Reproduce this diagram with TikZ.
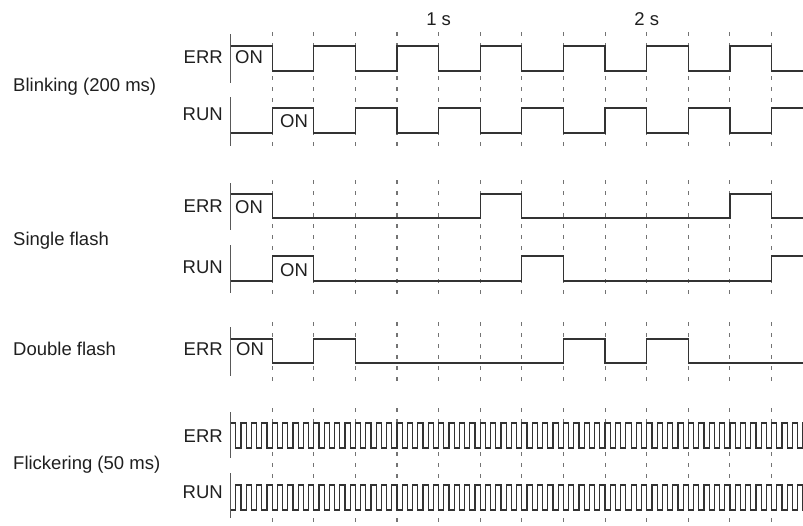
\documentclass[tikz,border=0pt]{standalone}
\usepackage{fontspec}
\setmainfont{Liberation Sans}
\begin{document}
\begin{tikzpicture}[x=1pt,y=-1pt,
  txt/.style={inner sep=0pt,font=\fontsize{18.5}{20}\selectfont,text=black!88},
  sig/.style={line width=1.2pt,draw=black!80,line join=miter},
  axisline/.style={line width=1.5pt,draw=black!65},
  grid/.style={line width=1.1pt,draw=black!55,dash pattern=on 4pt off 7pt}]
\useasboundingbox (0,0) rectangle (803,525);
\clip (0,0) rectangle (803,525);
% left labels
\node[txt,anchor=base west] (lblink) at (13,91) {Blinking (200 ms)};
\node[txt,anchor=base west] (lsingle) at (13,245) {Single flash};
\node[txt,anchor=base west] (ldouble) at (13,355) {Double flash};
\node[txt,anchor=base west] (lflick) at (13,469) {Flickering (50 ms)};
% channel labels
\node[txt,anchor=base east] (e1) at (223,63) {ERR};
\node[txt,anchor=base east] (r1) at (223,120.5) {RUN};
\node[txt,anchor=base east] (e2) at (223,212) {ERR};
\node[txt,anchor=base east] (r2) at (223,273) {RUN};
\node[txt,anchor=base east] (e3) at (223,355) {ERR};
\node[txt,anchor=base east] (e4) at (223,442) {ERR};
\node[txt,anchor=base east] (r4) at (223,498) {RUN};
% ON labels
\node[txt,anchor=base west] (on1) at (235,63) {ON};
\node[txt,anchor=base west] (on2) at (280,127.5) {ON};
\node[txt,anchor=base west] (on3) at (235,213) {ON};
\node[txt,anchor=base west] (on4) at (280,276) {ON};
\node[txt,anchor=base west] (on5) at (236,355) {ON};
\begin{scope}[xshift=230.5pt,x=41.62pt]
% time labels
\node[txt,anchor=base] (t1) at (5,25) {1 s};
\node[txt,anchor=base] (t2) at (10,25) {2 s};
% dashed grid
\foreach \k in {1,...,13}{
  \draw[grid] (\k,32) -- (\k,150);
  \draw[grid] (\k,180) -- (\k,298);
  \draw[grid] (\k,322) -- (\k,384);
  \draw[grid] (\k,408) -- (\k,523);
}
% axes
\draw[axisline] (0,34) -- (0,83);
\draw[axisline] (0,97) -- (0,146);
\draw[axisline] (0,183) -- (0,230);
\draw[axisline] (0,245) -- (0,293);
\draw[axisline] (0,327) -- (0,376);
\draw[axisline] (0,412) -- (0,458);
\draw[axisline] (0,473) -- (0,518);
% blinking
\draw[sig] (0,46) foreach \k in {1,3,...,13}{ -| (\k,71) -| ({\k+1},46)};
\draw[sig] (0,133) foreach \k in {1,3,...,13}{ -| (\k,108) -| ({\k+1},133)};
% single flash
\draw[sig] (0,194) -| (1,218) -| (6,194) -| (7,218) -| (12,194) -| (13,218) -- (14,218);
\draw[sig] (0,281) -| (1,256) -| (2,281) -| (7,256) -| (8,281) -| (13,256) -- (14,256);
% double flash
\draw[sig] (0,339) -| (1,363) -| (2,339) -| (3,363) -| (8,339) -| (9,363) -| (10,339) -| (11,363) -- (14,363);
% flickering
\draw[sig] (0,423) foreach \i in {0,...,55}{ -| ({\i*0.25+0.125},448) -| ({\i*0.25+0.25},423)};
\draw[sig] (0,510) foreach \i in {0,...,55}{ -| ({\i*0.25+0.125},485) -| ({\i*0.25+0.25},510)};
\end{scope}
\end{tikzpicture}
\end{document}
